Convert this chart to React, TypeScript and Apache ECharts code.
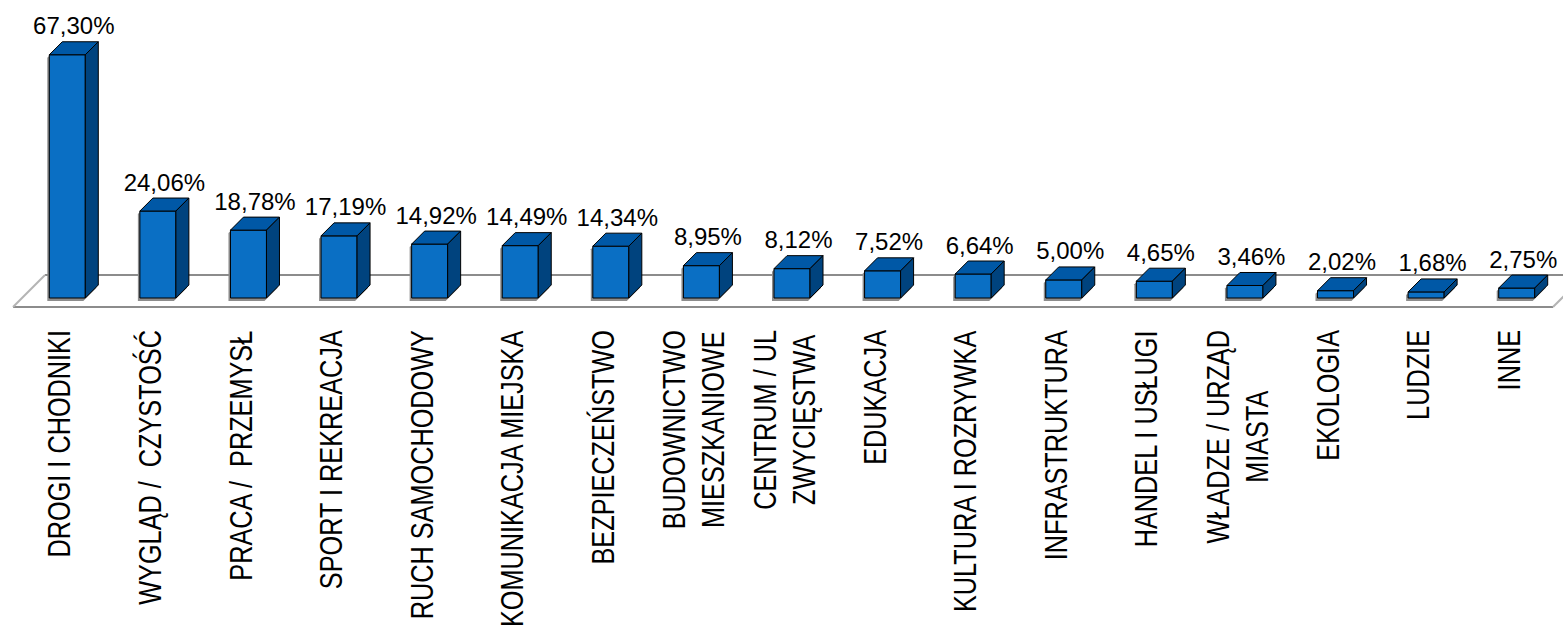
import React, { useEffect, useRef } from 'react';
import * as echarts from 'echarts';

const categories = [
  'DROGI I CHODNIKI',
  'WYGLĄD /  CZYSTOŚĆ',
  'PRACA /  PRZEMYSŁ',
  'SPORT I REKREACJA',
  'RUCH SAMOCHODOWY',
  'KOMUNIKACJA MIEJSKA',
  'BEZPIECZEŃSTWO',
  'BUDOWNICTWO\nMIESZKANIOWE',
  'CENTRUM / UL\nZWYCIĘSTWA',
  'EDUKACJA',
  'KULTURA I ROZRYWKA',
  'INFRASTRUKTURA',
  'HANDEL I USŁUGI',
  'WŁADZE / URZĄD\nMIASTA',
  'EKOLOGIA',
  'LUDZIE',
  'INNE',
];
const values = [67.3, 24.06, 18.78, 17.19, 14.92, 14.49, 14.34, 8.95, 8.12, 7.52, 6.64, 5.0, 4.65, 3.46, 2.02, 1.68, 2.75];

const W = 1563;
const H = 635;
const GRID_LEFT = 13;
const GRID_RIGHT = 10;
const GRID_TOP = 54;
const GRID_BOTTOM = 328;
const DEPTH = 32;
const FONT = "'Liberation Sans', Arial, sans-serif";

const fmt = (v: number) => v.toFixed(2).replace('.', ',') + '%';

export default function App() {
  const ref = useRef<HTMLDivElement>(null);
  useEffect(() => {
    if (!ref.current) return;
    const chart = echarts.init(ref.current, undefined, { renderer: 'svg' });
    const frontY = H - GRID_BOTTOM;
    const x0 = GRID_LEFT;
    const x1 = W - GRID_RIGHT;
    chart.setOption({
      animation: false,
      backgroundColor: '#ffffff',
      grid: {
        left: GRID_LEFT,
        right: GRID_RIGHT,
        top: GRID_TOP,
        bottom: GRID_BOTTOM,
        containLabel: false,
        outerBoundsMode: 'none',
      },
      graphic: [
        {
          type: 'polygon',
          shape: { points: [[x0, frontY], [x1, frontY], [x1 + DEPTH, frontY - DEPTH], [x0 + DEPTH, frontY - DEPTH]] },
          style: { fill: '#ffffff' },
          z: 0,
        },
        { type: 'line', shape: { x1: x0 + DEPTH, y1: frontY - DEPTH, x2: x1 + DEPTH, y2: frontY - DEPTH }, style: { stroke: '#8c8c8c', lineWidth: 2 }, z: 1 },
        { type: 'line', shape: { x1: x0, y1: frontY, x2: x1, y2: frontY }, style: { stroke: '#8c8c8c', lineWidth: 2 }, z: 1 },
        { type: 'line', shape: { x1: x0, y1: frontY, x2: x0 + DEPTH, y2: frontY - DEPTH }, style: { stroke: '#b4b4b4', lineWidth: 2 }, z: 1 },
        { type: 'line', shape: { x1: x1, y1: frontY, x2: x1 + DEPTH, y2: frontY - DEPTH }, style: { stroke: '#b4b4b4', lineWidth: 2 }, z: 1 },
      ],
      xAxis: {
        type: 'category',
        data: categories,
        boundaryGap: true,
        axisLine: { show: false },
        axisTick: { show: false },
        axisLabel: { show: false },
      },
      yAxis: {
        type: 'value',
        min: 0,
        max: 70,
        show: false,
        splitLine: { show: false },
      },
      series: [
        {
          type: 'custom',
          data: values.map((v, i) => [i, v]),
          encode: { x: 0, y: 1 },
          clip: false,
          renderItem: (params: any, api: any) => {
            const idx = api.value(0);
            const v = api.value(1);
            const base = api.coord([idx, 0]);
            const top = api.coord([idx, v]);
            const back = 9;
            const w = 36;
            const d = 13;
            const cx = base[0] + back;
            const bx0 = cx - w / 2;
            const bx1 = cx + w / 2;
            const yb = base[1] - back;
            const yt = top[1] - back;
            const cat = categories[idx];
            return {
              type: 'group',
              children: [
                {
                  type: 'polygon',
                  shape: {
                    points: [
                      [bx0 - 2, yb + 3], [bx0 - 2, yt + 3], [bx0 + d - 2, yt - d + 3], [bx1 + d - 2, yt - d + 3],
                      [bx1 + d - 2, yb - d + 3], [bx1 - 2, yb + 3],
                    ],
                  },
                  style: { fill: '#8c8c8c' },
                },
                {
                  type: 'rect',
                  shape: { x: bx0, y: yt, width: w, height: yb - yt },
                  style: { fill: '#0a6fc4', stroke: '#000', lineWidth: 1 },
                },
                {
                  type: 'polygon',
                  shape: { points: [[bx0, yt], [bx0 + d, yt - d], [bx1 + d, yt - d], [bx1, yt]] },
                  style: { fill: '#0058a6', stroke: '#000', lineWidth: 1 },
                },
                {
                  type: 'polygon',
                  shape: { points: [[bx1, yt], [bx1 + d, yt - d], [bx1 + d, yb - d], [bx1, yb]] },
                  style: { fill: '#00437e', stroke: '#000', lineWidth: 1 },
                },
                {
                  type: 'text',
                  x: cx + d / 2,
                  y: yt - d - 4,
                  style: {
                    text: fmt(v),
                    fill: '#000',
                    font: '24px ' + FONT,
                    align: 'center',
                    verticalAlign: 'bottom',
                  },
                },
                {
                  type: 'text',
                  x: base[0] + 1,
                  y: base[1] + 23,
                  rotation: Math.PI / 2,
                  scaleX: 0.79,
                  style: {
                    text: cat.split('\n').map((s: string) => '{c|' + s + '}').join('\n'),
                    fill: '#000',
                    font: '32px ' + FONT,
                    align: 'right',
                    verticalAlign: 'middle',
                    rich: {
                      c: { align: 'center', fontSize: 32, fontFamily: FONT, lineHeight: 39, fill: '#000' },
                    },
                  },
                },
              ],
            };
          },
        },
      ],
    });
    return () => chart.dispose();
  }, []);
  return <div ref={ref} style={{ position: 'absolute', left: 0, top: 0, width: W, height: H }} />;
}
